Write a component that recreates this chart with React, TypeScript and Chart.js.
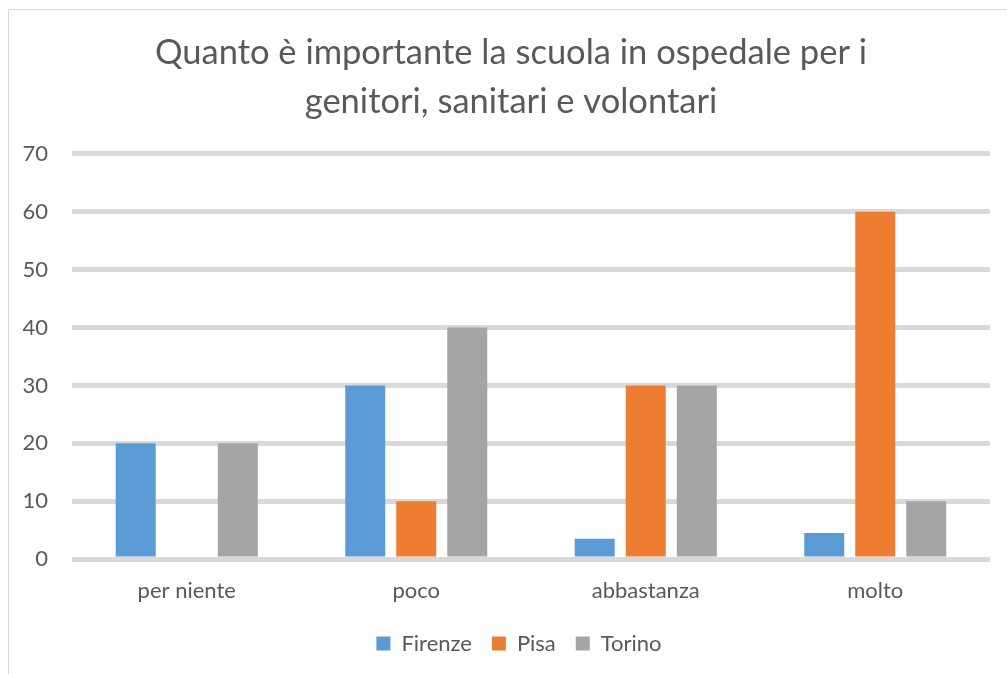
import React, { useEffect, useRef } from "react";
import { Chart, registerables } from "chart.js";

Chart.register(...registerables);

const titleLines = ["Quanto è importante la scuola in ospedale per i", "genitori, sanitari e volontari"];
const categories = ["per niente", "poco", "abbastanza", "molto"];
const firenze = [20, 30, 3.5, 4.5];
const pisa = [0, 10, 30, 60];
const torino = [20, 40, 30, 10];
const seriesNames = ["Firenze", "Pisa", "Torino"];
const seriesColors = ["#5B9BD5", "#ED7D31", "#A5A5A5"];

const FONT = "Lato, 'Open Sans', sans-serif";
const TEXT = "#595959";
const GRID = "#D9D9D9";

const borderPlugin = {
  id: "outerBorder",
  beforeDraw(chart: any) {
    const ctx = chart.ctx;
    ctx.save();
    ctx.fillStyle = "#ffffff";
    ctx.fillRect(0, 0, chart.width, chart.height);
    ctx.strokeStyle = GRID;
    ctx.lineWidth = 1;
    ctx.strokeRect(8.5, 9.5, chart.width + 20, chart.height + 20);
    ctx.restore();
  },
};

const boxShift = {
  id: "boxShift",
  afterLayout(chart: any) {
    if (chart.legend) {
      chart.legend.left += 24;
      chart.legend.right += 24;
    }
    if (chart.titleBlock) {
      chart.titleBlock.left += 16;
      chart.titleBlock.right += 16;
    }
  },
};

export default function App() {
  const ref = useRef<HTMLCanvasElement>(null);
  useEffect(() => {
    if (!ref.current) return;
    const values = [firenze, pisa, torino];
    const chart = new Chart(ref.current, {
      type: "bar",
      data: {
        labels: categories,
        datasets: seriesNames.map((name, i) => ({
          label: name,
          data: values[i],
          backgroundColor: seriesColors[i],
          borderWidth: 0,
          barPercentage: 0.784,
          categoryPercentage: 0.667,
        })),
      },
      plugins: [borderPlugin, boxShift],
      options: {
        animation: false,
        responsive: false,
        maintainAspectRatio: false,
        layout: { padding: { left: 0, right: 17, top: 28, bottom: 9.5 } },
        plugins: {
          title: {
            display: true,
            text: titleLines,
            color: TEXT,
            font: { family: FONT, size: 34.5, weight: "normal", lineHeight: 1.42 },
            padding: { top: 0, bottom: 28 },
          },
          legend: {
            display: true,
            position: "bottom",
            labels: {
              color: TEXT,
              font: { family: FONT, size: 22 },
              boxWidth: 14,
              boxHeight: 14,
              padding: 20,
            },
          },
          tooltip: { enabled: false },
        },
        scales: {
          x: {
            grid: { display: false, drawTicks: false },
            border: { display: false },
            ticks: { color: TEXT, font: { family: FONT, size: 22 }, padding: 19 },
            afterFit(scale: any) {
              scale.height = 53.5;
            },
          },
          y: {
            min: 0,
            max: 70,
            ticks: { stepSize: 10, color: TEXT, font: { family: FONT, size: 22 }, padding: 24 },
            grid: { color: GRID, lineWidth: 5, drawTicks: false },
            border: { display: false },
            afterFit(scale: any) {
              scale.width = 72;
            },
          },
        },
      },
    });
    return () => chart.destroy();
  }, []);
  return (
    <div style={{ position: "fixed", left: 0, top: 0, width: 1007, height: 674 }}>
      <canvas ref={ref} width={1007} height={674} style={{ width: 1007, height: 674 }} />
    </div>
  );
}
